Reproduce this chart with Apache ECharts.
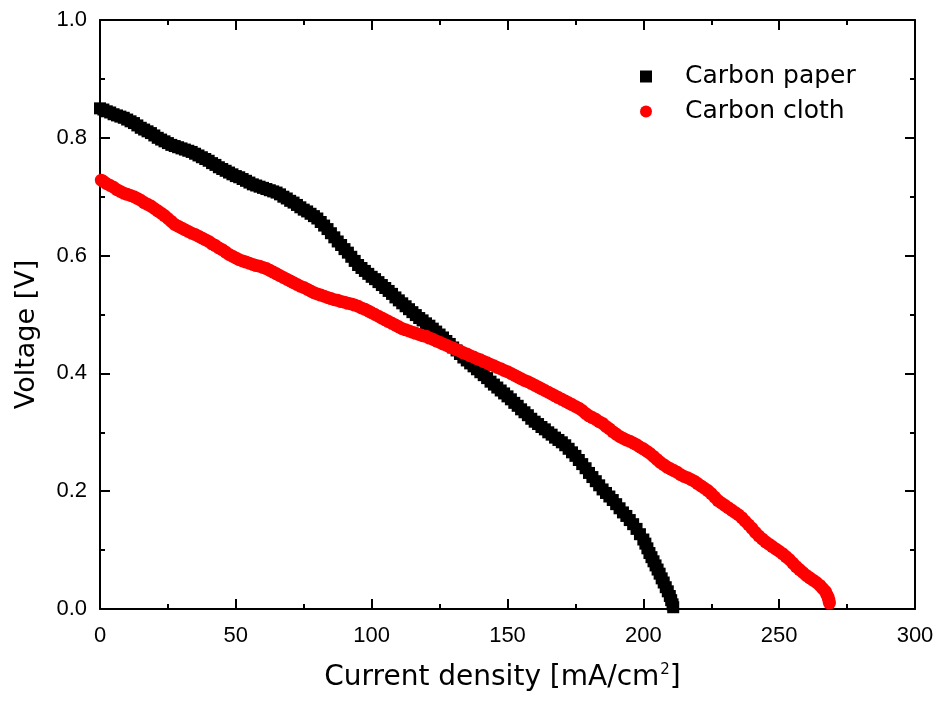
<!DOCTYPE html>
<html>
<head>
<meta charset="utf-8">
<script src="https://cdn.jsdelivr.net/npm/echarts@6/dist/echarts.min.js"></script>
<style>
  html, body { margin: 0; padding: 0; background: #fff; }
  #main { width: 938px; height: 704px; }
</style>
</head>
<body>
<div id="main"></div>
<script>
// Carbon paper (black squares)
var paperCurrent = [0, 1.25, 2.5, 3.75, 5, 6.25, 7.5, 8.75, 10, 11.25, 12.5, 13.75, 15, 16.25, 17.5, 18.75, 20, 21.25, 22.5, 23.75,
  25, 26.25, 27.5, 28.75, 30, 31.25, 32.5, 33.75, 35, 36.25, 37.5, 38.75, 40, 41.25, 42.5, 43.75, 45, 46.25, 47.5, 48.75,
  50, 51.25, 52.5, 53.75, 55, 56.25, 57.5, 58.75, 60, 61.25, 62.5, 63.75, 65, 66.25, 67.5, 68.75, 70, 71.25, 72.5, 73.75,
  75, 76.25, 77.5, 78.75, 80, 81.25, 82.5, 83.75, 85, 86.25, 87.5, 88.75, 90, 91.25, 92.5, 93.75, 95, 96.25, 97.5, 98.75,
  100, 101.25, 102.5, 103.75, 105, 106.25, 107.5, 108.75, 110, 111.25, 112.5, 113.75, 115, 116.25, 117.5, 118.75, 120, 121.25, 122.5, 123.75,
  125, 126.25, 127.5, 128.75, 130, 131.25, 132.5, 133.75, 135, 136.25, 137.5, 138.75, 140, 141.25, 142.5, 143.75, 145, 146.25, 147.5, 148.75,
  150, 151.25, 152.5, 153.75, 155, 156.25, 157.5, 158.75, 160, 161.25, 162.5, 163.75, 165, 166.25, 167.5, 168.75, 170, 171.25, 172.5, 173.75,
  175, 176.25, 177.5, 178.75, 180, 181.25, 182.5, 183.75, 185, 186.25, 187.5, 188.75, 190, 191.25, 192.5, 193.75, 195, 196.25, 197.5, 198.75,
  200, 200.75, 201.5, 202.25, 203, 203.75, 204.5, 205.25, 206, 206.75, 207.5, 208.25, 209, 209.75, 210.25, 210.75, 211];
var paperVoltage = [0.850, 0.848, 0.845, 0.843, 0.840, 0.838, 0.836, 0.834, 0.831, 0.828, 0.825, 0.821, 0.817, 0.814, 0.811, 0.808, 0.804, 0.800, 0.797, 0.794,
  0.791, 0.788, 0.786, 0.784, 0.782, 0.780, 0.778, 0.776, 0.773, 0.770, 0.767, 0.764, 0.761, 0.757, 0.754, 0.750, 0.747, 0.744, 0.741, 0.738,
  0.735, 0.733, 0.730, 0.727, 0.724, 0.721, 0.719, 0.717, 0.715, 0.713, 0.711, 0.709, 0.707, 0.704, 0.700, 0.697, 0.693, 0.690, 0.686, 0.682,
  0.678, 0.675, 0.671, 0.667, 0.663, 0.657, 0.651, 0.645, 0.638, 0.631, 0.624, 0.618, 0.611, 0.605, 0.598, 0.591, 0.584, 0.579, 0.574, 0.569,
  0.564, 0.560, 0.555, 0.550, 0.545, 0.540, 0.535, 0.529, 0.524, 0.519, 0.514, 0.509, 0.504, 0.499, 0.494, 0.490, 0.485, 0.481, 0.476, 0.471,
  0.466, 0.461, 0.455, 0.450, 0.444, 0.439, 0.433, 0.427, 0.422, 0.417, 0.412, 0.407, 0.402, 0.397, 0.392, 0.386, 0.381, 0.376, 0.371, 0.366,
  0.361, 0.356, 0.350, 0.345, 0.339, 0.334, 0.329, 0.323, 0.318, 0.314, 0.309, 0.305, 0.300, 0.296, 0.291, 0.287, 0.283, 0.278, 0.272, 0.266,
  0.260, 0.253, 0.246, 0.239, 0.231, 0.224, 0.217, 0.210, 0.203, 0.197, 0.191, 0.185, 0.178, 0.171, 0.164, 0.158, 0.151, 0.144, 0.136, 0.127,
  0.118, 0.111, 0.103, 0.095, 0.088, 0.081, 0.074, 0.067, 0.060, 0.052, 0.045, 0.037, 0.030, 0.022, 0.015, 0.008, 0.003];

// Carbon cloth (red circles)
var clothCurrent = [0.5, 1.25, 2.5, 3.75, 5, 6.25, 7.5, 8.75, 10, 11.25, 12.5, 13.75, 15, 16.25, 17.5, 18.75, 20, 21.25, 22.5, 23.75,
  25, 26.25, 27.5, 28.75, 30, 31.25, 32.5, 33.75, 35, 36.25, 37.5, 38.75, 40, 41.25, 42.5, 43.75, 45, 46.25, 47.5, 48.75,
  50, 51.25, 52.5, 53.75, 55, 56.25, 57.5, 58.75, 60, 61.25, 62.5, 63.75, 65, 66.25, 67.5, 68.75, 70, 71.25, 72.5, 73.75,
  75, 76.25, 77.5, 78.75, 80, 81.25, 82.5, 83.75, 85, 86.25, 87.5, 88.75, 90, 91.25, 92.5, 93.75, 95, 96.25, 97.5, 98.75,
  100, 101.25, 102.5, 103.75, 105, 106.25, 107.5, 108.75, 110, 111.25, 112.5, 113.75, 115, 116.25, 117.5, 118.75, 120, 121.25, 122.5, 123.75,
  125, 126.25, 127.5, 128.75, 130, 131.25, 132.5, 133.75, 135, 136.25, 137.5, 138.75, 140, 141.25, 142.5, 143.75, 145, 146.25, 147.5, 148.75,
  150, 151.25, 152.5, 153.75, 155, 156.25, 157.5, 158.75, 160, 161.25, 162.5, 163.75, 165, 166.25, 167.5, 168.75, 170, 171.25, 172.5, 173.75,
  175, 176.25, 177.5, 178.75, 180, 181.25, 182.5, 183.75, 185, 186.25, 187.5, 188.75, 190, 191.25, 192.5, 193.75, 195, 196.25, 197.5, 198.75,
  200, 201.25, 202.5, 203.75, 205, 206.25, 207.5, 208.75, 210, 211.25, 212.5, 213.75, 215, 216.25, 217.5, 218.75, 220, 221.25, 222.5, 223.75,
  225, 226.25, 227.5, 228.75, 230, 231.25, 232.5, 233.75, 235, 236.25, 237.5, 238.75, 240, 241.25, 242.5, 243.75, 245, 246.25, 247.5, 248.75,
  250, 251.25, 252.5, 253.75, 255, 256.25, 257.5, 258.75, 260, 261.25, 262.5, 263.75, 265, 266, 267, 267.5, 268, 268.3, 268.5];
var clothVoltage = [0.728, 0.726, 0.722, 0.719, 0.716, 0.712, 0.709, 0.706, 0.704, 0.702, 0.700, 0.697, 0.694, 0.690, 0.687, 0.684, 0.680, 0.676, 0.672, 0.668,
  0.663, 0.658, 0.653, 0.650, 0.647, 0.644, 0.641, 0.638, 0.636, 0.633, 0.630, 0.627, 0.624, 0.620, 0.617, 0.613, 0.610, 0.606, 0.602, 0.599,
  0.596, 0.593, 0.591, 0.589, 0.587, 0.585, 0.583, 0.582, 0.580, 0.578, 0.575, 0.572, 0.569, 0.566, 0.563, 0.560, 0.557, 0.554, 0.551, 0.548,
  0.546, 0.543, 0.540, 0.537, 0.535, 0.533, 0.531, 0.529, 0.527, 0.525, 0.524, 0.522, 0.521, 0.519, 0.518, 0.516, 0.514, 0.511, 0.509, 0.506,
  0.503, 0.500, 0.497, 0.494, 0.491, 0.488, 0.485, 0.482, 0.479, 0.476, 0.474, 0.472, 0.470, 0.468, 0.466, 0.464, 0.463, 0.460, 0.458, 0.455,
  0.453, 0.450, 0.448, 0.445, 0.443, 0.440, 0.438, 0.435, 0.433, 0.430, 0.428, 0.425, 0.423, 0.420, 0.418, 0.415, 0.413, 0.410, 0.408, 0.405,
  0.403, 0.400, 0.397, 0.394, 0.391, 0.388, 0.386, 0.383, 0.380, 0.377, 0.374, 0.371, 0.368, 0.365, 0.362, 0.359, 0.356, 0.353, 0.350, 0.347,
  0.344, 0.341, 0.337, 0.332, 0.328, 0.325, 0.322, 0.318, 0.315, 0.310, 0.306, 0.301, 0.297, 0.293, 0.290, 0.287, 0.285, 0.282, 0.279, 0.275,
  0.272, 0.268, 0.264, 0.259, 0.254, 0.249, 0.245, 0.241, 0.238, 0.235, 0.232, 0.228, 0.225, 0.223, 0.220, 0.217, 0.213, 0.209, 0.205, 0.201,
  0.196, 0.190, 0.184, 0.180, 0.176, 0.172, 0.168, 0.164, 0.160, 0.155, 0.149, 0.143, 0.137, 0.130, 0.124, 0.119, 0.114, 0.110, 0.106, 0.102,
  0.098, 0.094, 0.089, 0.084, 0.078, 0.072, 0.067, 0.062, 0.057, 0.053, 0.049, 0.045, 0.040, 0.035, 0.030, 0.025, 0.020, 0.015, 0.010];

var seriesNames = ['Carbon paper', 'Carbon cloth'];

function pairs(xs, ys) {
  return xs.map(function (x, i) { return [x, ys[i]]; });
}

var chartDom = document.getElementById('main');
var myChart = echarts.init(chartDom);
var option;

var axisLine = { show: true, onZero: false, lineStyle: { color: '#000', width: 2 } };
var axisTick = { show: true, inside: true, length: 10, lineStyle: { color: '#000', width: 2 } };
var minorTick = { show: true, splitNumber: 2, length: 5, lineStyle: { color: '#000', width: 2 } };
var tickFont = { color: '#000', fontSize: 22, fontFamily: 'Liberation Sans' };

option = {
  animation: false,
  backgroundColor: '#fff',
  grid: { left: 100, right: 23, top: 20, bottom: 95, outerBoundsMode: 'none' },
  legend: {
    orient: 'vertical',
    left: 635,
    top: 59,
    itemWidth: 12,
    itemHeight: 12,
    itemGap: 10,
    textStyle: { color: '#000', fontSize: 25, fontFamily: 'DejaVu Sans', padding: [0, 0, 0, 28] },
    data: [
      { name: seriesNames[0], icon: 'rect' },
      { name: seriesNames[1], icon: 'circle' }
    ]
  },
  xAxis: [
    {
      type: 'value', position: 'bottom', min: 0, max: 300, interval: 50,
      name: 'Current density [mA/cm{sup|2}]',
      nameLocation: 'middle', nameGap: 54,
      nameTextStyle: {
        color: '#000', fontSize: 28, fontFamily: 'DejaVu Sans', padding: [0, 10, 0, 0],
        rich: { sup: { fontSize: 15, fontFamily: 'DejaVu Sans', color: '#000', verticalAlign: 'top', padding: [0, 0, 14, 1] } }
      },
      axisLine: axisLine, axisTick: axisTick, minorTick: minorTick,
      axisLabel: Object.assign({ margin: 16 }, tickFont),
      splitLine: { show: false }, minorSplitLine: { show: false }
    },
    {
      type: 'value', position: 'top', min: 0, max: 300, interval: 50,
      axisLine: axisLine, axisTick: axisTick, minorTick: minorTick,
      axisLabel: { show: false }, splitLine: { show: false }
    }
  ],
  yAxis: [
    {
      type: 'value', position: 'left', min: 0, max: 1.0, interval: 0.2,
      name: 'Voltage [V]',
      nameLocation: 'middle', nameGap: 60,
      nameTextStyle: { color: '#000', fontSize: 27, fontFamily: 'DejaVu Sans', padding: [0, 40, 0, 0] },
      axisLine: axisLine, axisTick: axisTick, minorTick: minorTick,
      axisLabel: Object.assign({ margin: 13, formatter: function (v) { return v.toFixed(1); } }, tickFont),
      splitLine: { show: false }, minorSplitLine: { show: false }
    },
    {
      type: 'value', position: 'right', min: 0, max: 1.0, interval: 0.2,
      axisLine: axisLine, axisTick: axisTick, minorTick: minorTick,
      axisLabel: { show: false }, splitLine: { show: false }
    }
  ],
  series: [
    {
      name: seriesNames[0],
      type: 'scatter',
      symbol: 'rect',
      symbolSize: 12,
      itemStyle: { color: '#000', opacity: 1 },
      data: pairs(paperCurrent, paperVoltage)
    },
    {
      name: seriesNames[1],
      type: 'scatter',
      symbol: 'circle',
      symbolSize: 13,
      itemStyle: { color: '#ff0000', opacity: 1 },
      data: pairs(clothCurrent, clothVoltage)
    }
  ]
};

option && myChart.setOption(option);
</script>
</body>
</html>
